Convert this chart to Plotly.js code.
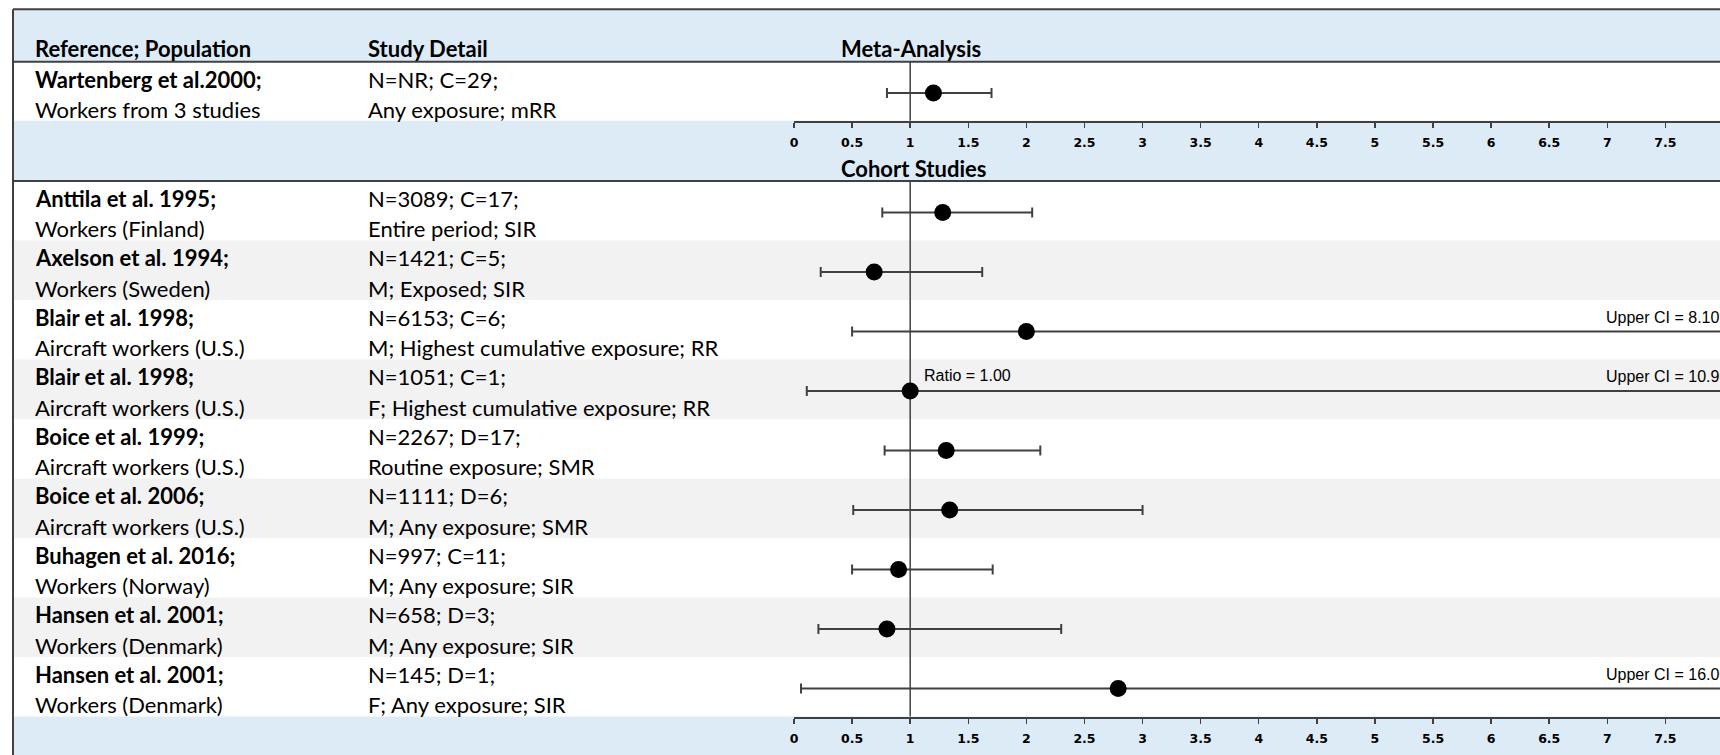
<!DOCTYPE html>
<html>
<head>
<meta charset="utf-8">
<script src="https://cdn.plot.ly/plotly-3.0.1.min.js"></script>
<style>
html,body{margin:0;padding:0;background:#fff;overflow:hidden;}
#chart{width:1720px;height:755px;}
</style>
</head>
<body>
<div id="chart"></div>
<script>
// ---------- data ----------
const headerRef = "Reference; Population";
const headerDetail = "Study Detail";
const metaTitle = "Meta-Analysis";
const cohortTitle = "Cohort Studies";

const metaRefs = ["Wartenberg et al.2000;"];
const metaPops = ["Workers from 3 studies"];
const metaDetail1 = ["N=NR; C=29;"];
const metaDetail2 = ["Any exposure; mRR"];
const metaPoint = [1.2];
const metaLower = [0.8];
const metaUpper = [1.7];

const cohortRefs = ["Anttila et al. 1995;", "Axelson et al. 1994;", "Blair et al. 1998;", "Blair et al. 1998;",
  "Boice et al. 1999;", "Boice et al. 2006;", "Buhagen et al. 2016;", "Hansen et al. 2001;", "Hansen et al. 2001;"];
const cohortPops = ["Workers (Finland)", "Workers (Sweden)", "Aircraft workers (U.S.)", "Aircraft workers (U.S.)",
  "Aircraft workers (U.S.)", "Aircraft workers (U.S.)", "Workers (Norway)", "Workers (Denmark)", "Workers (Denmark)"];
const cohortDetail1 = ["N=3089; C=17;", "N=1421; C=5;", "N=6153; C=6;", "N=1051; C=1;",
  "N=2267; D=17;", "N=1111; D=6;", "N=997; C=11;", "N=658; D=3;", "N=145; D=1;"];
const cohortDetail2 = ["Entire period; SIR", "M; Exposed; SIR", "M; Highest cumulative exposure; RR",
  "F; Highest cumulative exposure; RR", "Routine exposure; SMR", "M; Any exposure; SMR",
  "M; Any exposure; SIR", "M; Any exposure; SIR", "F; Any exposure; SIR"];
const cohortPoint = [1.28, 0.69, 2.0, 1.0, 1.31, 1.34, 0.90, 0.80, 2.79];
const cohortLower = [0.76, 0.23, 0.50, 0.11, 0.78, 0.51, 0.50, 0.21, 0.06];
const cohortUpper = [2.05, 1.62, 8.10, 10.90, 2.12, 3.00, 1.71, 2.30, 16.00];

const tickVals = [0, 0.5, 1, 1.5, 2, 2.5, 3, 3.5, 4, 4.5, 5, 5.5, 6, 6.5, 7, 7.5];
const tickText = ["0", "0.5", "1", "1.5", "2", "2.5", "3", "3.5", "4", "4.5", "5", "5.5", "6", "6.5", "7", "7.5"];
const refValue = 1;
const xMax = 7.97;
const ratioLabelIndex = 3; // row with "Ratio = 1.00" label

// ---------- layout helpers (pixel geometry) ----------
const W = 1720, H = 755;
const px = v => v / W;
const py = v => (H - v) / H;
const lineColor = "#404040";
const blue = "#DDEBF7";
const gray = "#F2F2F2";
const mainFont = "Lato, 'Open Sans', sans-serif";
const smallFont = "'Liberation Sans', Arial, sans-serif";

const xDomain = [px(794), 1];
const leftEdge = px(13);
const col1 = px(33), col2 = px(366), col3 = px(839);

const nC = cohortRefs.length;
const rowsY = cohortRefs.map((_, i) => i);

const traces = [
  {
    type: "scatter", mode: "markers", xaxis: "x", yaxis: "y",
    x: metaPoint, y: metaPoint.map(() => 0.03),
    marker: {color: "#000", size: 17},
    error_x: {type: "data", symmetric: false,
      array: metaUpper.map((u, i) => u - metaPoint[i]),
      arrayminus: metaLower.map((l, i) => metaPoint[i] - l),
      color: lineColor, thickness: 2, width: 5},
    hoverinfo: "skip", showlegend: false
  },
  {
    type: "scatter", mode: "markers", xaxis: "x2", yaxis: "y2",
    x: cohortPoint, y: rowsY.map(i => i + 0.03),
    marker: {color: "#000", size: 17},
    error_x: {type: "data", symmetric: false,
      array: cohortUpper.map((u, i) => u - cohortPoint[i]),
      arrayminus: cohortLower.map((l, i) => cohortPoint[i] - l),
      color: lineColor, thickness: 2, width: 5},
    hoverinfo: "skip", showlegend: false
  }
];

const shapes = [];
// blue bands
shapes.push({type: "rect", xref: "paper", yref: "paper", x0: leftEdge, x1: 1, y0: py(61.7), y1: py(9.3), fillcolor: blue, line: {width: 0}, layer: "below"});
shapes.push({type: "rect", xref: "paper", yref: "paper", x0: leftEdge, x1: 1, y0: py(181), y1: py(120.7), fillcolor: blue, line: {width: 0}, layer: "below"});
shapes.push({type: "rect", xref: "paper", yref: "paper", x0: leftEdge, x1: 1, y0: 0, y1: py(716.5), fillcolor: blue, line: {width: 0}, layer: "below"});
// gray alternating rows
rowsY.forEach(i => {
  if (i % 2 === 1) {
    shapes.push({type: "rect", xref: "paper", yref: "y2", x0: leftEdge, x1: 1, y0: i - 0.5, y1: i + 0.5, fillcolor: gray, line: {width: 0}, layer: "below"});
  }
});
// borders / separators
shapes.push({type: "line", xref: "paper", yref: "paper", x0: leftEdge, x1: 1, y0: py(9.3), y1: py(9.3), line: {color: lineColor, width: 2}});
shapes.push({type: "line", xref: "paper", yref: "paper", x0: leftEdge, x1: leftEdge, y0: 0, y1: py(9.3), line: {color: lineColor, width: 2}});
shapes.push({type: "line", xref: "paper", yref: "paper", x0: leftEdge, x1: 1, y0: py(61.7), y1: py(61.7), line: {color: lineColor, width: 2}});
shapes.push({type: "line", xref: "paper", yref: "paper", x0: leftEdge, x1: 1, y0: py(181), y1: py(181), line: {color: lineColor, width: 2}});
// reference lines at ratio = 1
shapes.push({type: "line", xref: "x", yref: "y domain", x0: refValue, x1: refValue, y0: 0, y1: 1, line: {color: lineColor, width: 1.5}, layer: "below"});
shapes.push({type: "line", xref: "x2", yref: "y2 domain", x0: refValue, x1: refValue, y0: 0, y1: 1, line: {color: lineColor, width: 1.5}, layer: "below"});

const annotations = [];
const txt = (text, x, yref, y, opts = {}) => Object.assign({
  text, x, y, xref: "paper", yref, xanchor: "left", yanchor: "middle", showarrow: false,
  font: {family: mainFont, size: 22, color: "#000"}
}, opts);

annotations.push(txt("<b>" + headerRef + "</b>", col1, "paper", py(48.3)));
annotations.push(txt("<b>" + headerDetail + "</b>", col2, "paper", py(48.3)));
annotations.push(txt("<b>" + metaTitle + "</b>", col3, "paper", py(48.5)));
annotations.push(txt("<b>" + cohortTitle + "</b>", col3, "paper", py(168.3)));

metaRefs.forEach((r, i) => {
  annotations.push(txt("<b>" + r + "</b>", col1, "y", i - 0.19));
  annotations.push(txt(metaPops[i], col1, "y", i + 0.31));
  annotations.push(txt(metaDetail1[i], col2, "y", i - 0.19));
  annotations.push(txt(metaDetail2[i], col2, "y", i + 0.31));
});
cohortRefs.forEach((r, i) => {
  annotations.push(txt("<b>" + r + "</b>", col1, "y2", i - 0.21));
  annotations.push(txt(cohortPops[i], col1, "y2", i + 0.30));
  annotations.push(txt(cohortDetail1[i], col2, "y2", i - 0.21));
  annotations.push(txt(cohortDetail2[i], col2, "y2", i + 0.30));
  if (cohortUpper[i] > xMax) {
    annotations.push({text: "Upper CI = " + cohortUpper[i].toFixed(2), x: 6.97, y: i - 0.21,
      xref: "x2", yref: "y2", xanchor: "left", yanchor: "middle", showarrow: false,
      font: {family: smallFont, size: 16, color: "#000"}});
  }
});
annotations.push({text: "Ratio = " + cohortPoint[ratioLabelIndex].toFixed(2), x: cohortPoint[ratioLabelIndex] + 0.1,
  y: ratioLabelIndex - 0.23, xref: "x2", yref: "y2", xanchor: "left", yanchor: "middle", showarrow: false,
  font: {family: smallFont, size: 16, color: "#000"}});

const xaxisBase = {
  range: [0, xMax], domain: xDomain, showgrid: false, zeroline: false,
  showline: true, linecolor: lineColor, linewidth: 2,
  ticks: "outside", ticklen: 5, tickwidth: 1.5, tickcolor: lineColor,
  tickvals: tickVals, ticktext: tickText, ticklabelstandoff: 4,
  tickfont: {family: "'DejaVu Sans', sans-serif", size: 12.5, color: "#000", weight: "bold"},
  fixedrange: true
};

const layout = {
  width: W, height: H,
  margin: {l: 0, r: 0, t: 0, b: 0},
  paper_bgcolor: "rgba(0,0,0,0)", plot_bgcolor: "rgba(0,0,0,0)",
  showlegend: false,
  xaxis: Object.assign({}, xaxisBase, {anchor: "y"}),
  yaxis: {domain: [py(120.7), py(61.7)], range: [0.5, -0.5], visible: false, fixedrange: true},
  xaxis2: Object.assign({}, xaxisBase, {anchor: "y2"}),
  yaxis2: {domain: [py(716.5), py(181)], range: [nC - 0.5, -0.5], visible: false, fixedrange: true},
  shapes, annotations
};

Plotly.newPlot("chart", traces, layout, {displayModeBar: false, staticPlot: true});
</script>
</body>
</html>
